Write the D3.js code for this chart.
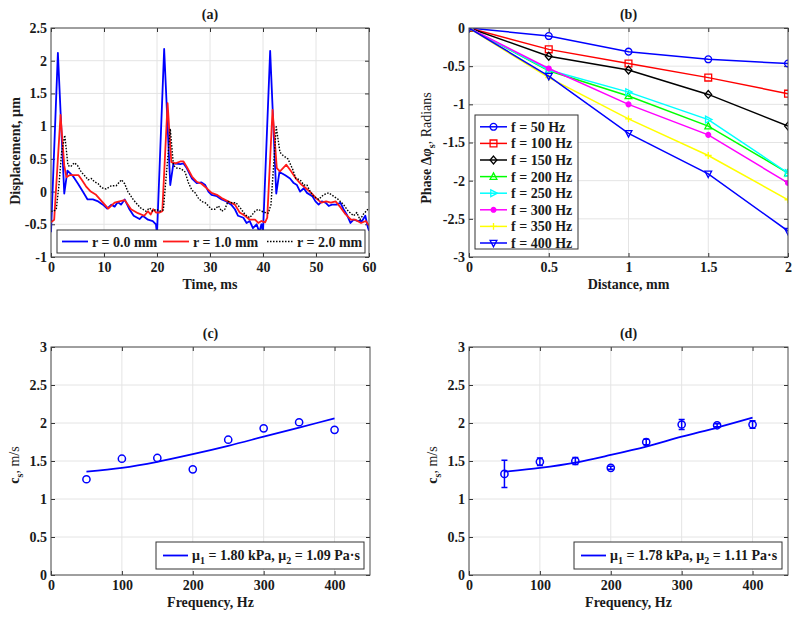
<!DOCTYPE html>
<html><head><meta charset="utf-8">
<script src="https://cdn.jsdelivr.net/npm/d3@7"></script>
<style>
body{margin:0;background:#fff}
text{font-family:"Liberation Serif","Times New Roman",serif;font-weight:bold;fill:#1a1a1a}
</style>
</head><body><svg id="c" width="800" height="618"></svg>
<script>
// ---------------- DATA ----------------
// Panel (a): displacement (µm) vs time (ms)
const dispR0 = [[0,-0.62],[1.3,2.12],[2.5,-0.03],[3.1,0.32],[4.1,0.24],[5.1,0.12],[6.0,0.0],[6.9,-0.12],[7.9,-0.12],[8.9,-0.15],[9.8,-0.2],[10.6,-0.26],[11.4,-0.2],[12.0,-0.23],[12.6,-0.16],[13.2,-0.2],[13.9,-0.12],[14.8,-0.27],[15.6,-0.37],[16.7,-0.42],[17.3,-0.37],[18.3,-0.43],[19.2,-0.45],[19.8,-0.5],[20.0,-0.65],
 [21.35,2.18],[22.5,0.1],[23.1,0.43],[24.4,0.42],[25.0,0.43],[25.6,0.36],[26.6,0.2],[27.5,0.13],[28.4,0.14],[29.1,0.1],[29.7,0.0],[30.3,-0.05],[31.3,-0.07],[32.2,-0.12],[33.1,-0.15],[34.0,-0.2],[34.7,-0.27],[35.3,-0.37],[36.3,-0.4],[36.9,-0.48],[37.5,-0.45],[38.1,-0.56],[38.8,-0.5],[39.3,-0.62],[39.7,-0.5],[40.0,-0.62],
 [41.35,2.15],[42.5,-0.03],[43.1,0.3],[44.2,0.25],[45.1,0.2],[45.8,0.13],[46.4,0.1],[47.0,0.0],[47.7,0.05],[48.3,-0.02],[49.3,-0.07],[49.9,-0.15],[50.5,-0.2],[51.1,-0.15],[51.8,-0.17],[52.4,-0.22],[53.0,-0.2],[53.9,-0.2],[54.6,-0.17],[55.2,-0.27],[55.8,-0.35],[56.5,-0.48],[57.1,-0.43],[58.0,-0.45],[58.7,-0.45],[59.3,-0.37],[59.8,-0.55],[60,-0.6]];
const dispR1 = [[0,-0.47],[0.6,-0.43],[1.8,1.17],[2.5,0.4],[2.9,0.22],[3.5,0.25],[4.4,0.25],[5.2,0.25],[5.8,0.18],[6.6,0.08],[7.5,0.0],[8.5,-0.05],[9.8,-0.17],[10.8,-0.26],[12.0,-0.17],[12.9,-0.15],[13.9,-0.13],[15.1,-0.27],[16.4,-0.33],[17.6,-0.37],[18.3,-0.3],[18.8,-0.35],[19.3,-0.27],[19.8,-0.32],[20.5,-0.32],[21.0,-0.3],
 [22.0,1.35],[22.7,0.45],[23.5,0.43],[24.4,0.46],[25.0,0.46],[25.6,0.38],[26.6,0.23],[27.5,0.15],[28.4,0.12],[29.4,0.05],[30.3,-0.02],[31.3,-0.05],[32.2,-0.1],[33.4,-0.15],[34.7,-0.2],[35.6,-0.32],[36.6,-0.37],[37.5,-0.43],[38.5,-0.43],[39.1,-0.48],[39.7,-0.45],[40.4,-0.47],[40.8,-0.4],
 [41.8,1.25],[42.6,0.36],[43.2,0.31],[44.4,0.41],[45.3,0.31],[46.2,0.2],[47.2,0.11],[48.1,0.05],[49.1,-0.02],[50.0,-0.1],[51.0,-0.17],[51.9,-0.15],[52.8,-0.17],[53.7,-0.15],[54.7,-0.25],[55.6,-0.35],[56.6,-0.43],[57.4,-0.43],[58.5,-0.48],[59.4,-0.45],[60,-0.52]];
const dispR2 = [[0,-0.3],[0.5,-0.3],[1.0,-0.27],[1.5,0.1],[2.0,0.6],[2.6,0.86],[3.2,0.4],[3.7,0.38],[4.4,0.44],[5.0,0.4],[5.7,0.3],[6.5,0.23],[7.0,0.18],[7.6,0.2],[8.2,0.15],[8.9,0.12],[9.5,0.06],[10.4,0.04],[11.4,0.09],[12.3,0.09],[13.3,0.18],[13.9,0.12],[14.5,0.0],[15.5,-0.12],[16.0,-0.17],[16.9,-0.25],[17.9,-0.3],[18.6,-0.25],[19.2,-0.3],[19.9,-0.27],[20.5,-0.3],[21.2,-0.28],[21.7,0.2],
 [22.5,0.96],[23.1,0.4],[23.7,0.36],[24.5,0.35],[25.3,0.3],[25.9,0.14],[26.6,0.02],[27.2,-0.02],[27.8,-0.1],[28.4,-0.15],[29.1,-0.17],[29.7,-0.22],[30.3,-0.27],[30.9,-0.27],[31.6,-0.22],[32.2,-0.3],[32.8,-0.27],[33.4,-0.15],[34.0,-0.17],[34.9,-0.17],[35.9,-0.27],[36.6,-0.35],[37.5,-0.4],[38.5,-0.3],[39.1,-0.27],[39.7,-0.3],[40.4,-0.32],[41.0,-0.33],[41.5,-0.2],
 [42.5,0.99],[43.2,0.6],[43.8,0.55],[44.7,0.5],[45.6,0.34],[46.2,0.2],[47.0,0.18],[47.7,0.1],[48.3,0.1],[48.9,0.0],[49.5,-0.07],[50.5,-0.12],[51.4,-0.05],[52.4,-0.02],[53.3,-0.07],[54.2,-0.12],[55.2,-0.2],[56.1,-0.3],[57.1,-0.37],[57.7,-0.32],[58.3,-0.43],[58.9,-0.35],[60,-0.25]];
const dispLabels = ["r = 0.0 mm","r = 1.0 mm","r = 2.0 mm"];
const timeTicks = [0,10,20,30,40,50,60];
const dispTicks = [-1,-0.5,0,0.5,1,1.5,2,2.5];

// Panel (b): phase vs distance
const distance = [0,0.5,1,1.5,2];
const phase50  = [0,-0.105,-0.31,-0.41,-0.465];
const phase100 = [0,-0.28,-0.465,-0.65,-0.86];
const phase150 = [0,-0.37,-0.55,-0.87,-1.285];
const phase200 = [0,-0.56,-0.89,-1.285,-1.9];
const phase250 = [0,-0.55,-0.84,-1.2,-1.9];
const phase300 = [0,-0.53,-1.0,-1.4,-2.03];
const phase350 = [0,-0.65,-1.19,-1.67,-2.25];
const phase400 = [0,-0.63,-1.38,-1.91,-2.66];
const phaseLabels = ["f = 50 Hz","f = 100 Hz","f = 150 Hz","f = 200 Hz","f = 250 Hz","f = 300 Hz","f = 350 Hz","f = 400 Hz"];
const distTicks = [0,0.5,1,1.5,2];
const phaseTicks = [-3,-2.5,-2,-1.5,-1,-0.5,0];

// Panels (c),(d): shear wave speed vs frequency
const freq = [50,100,150,200,250,300,350,400];
const speedC = [1.26,1.53,1.54,1.39,1.78,1.93,2.01,1.91];
const fitC   = [1.36,1.41,1.49,1.59,1.70,1.82,1.94,2.06];
const speedD = [1.33,1.49,1.50,1.41,1.75,1.98,1.97,1.98];
const errD   = [0.18,0.05,0.045,0.02,0.035,0.065,0.02,0.05];
const fitD   = [1.36,1.41,1.48,1.58,1.69,1.82,1.94,2.07];
const freqTicks = [0,100,200,300,400];
const speedTicks = [0,0.5,1,1.5,2,2.5,3];

// ---------------- STYLES ----------------
const dispStyles = [{c:"#0000ff",dash:null},{c:"#ff1a1a",dash:null},{c:"#000000",dash:"1.5,1.5"}];
const phaseStyles = [
 {c:"#0000ff",m:"circle"},{c:"#ff0000",m:"square"},{c:"#000000",m:"diamond"},{c:"#00ff00",m:"triup"},
 {c:"#00ffff",m:"triright"},{c:"#ff00ff",m:"dot"},{c:"#ffff00",m:"plus"},{c:"#0000ff",m:"tridown"}];

const svg = d3.select("#c");
const defs = svg.append("defs");
let clipId = 0;

function panel(cfg){
  const x = d3.scaleLinear().domain(cfg.xd).range([cfg.l,cfg.r]);
  const y = d3.scaleLinear().domain(cfg.yd).range([cfg.b,cfg.t]);
  const g = svg.append("g");
  g.append("g").selectAll("line").data(cfg.xt).join("line")
    .attr("x1",d=>x(d)).attr("x2",d=>x(d)).attr("y1",cfg.t).attr("y2",cfg.b)
    .attr("stroke","#e4e4e4").attr("stroke-width",1);
  g.append("g").selectAll("line").data(cfg.yt).join("line")
    .attr("y1",d=>y(d)).attr("y2",d=>y(d)).attr("x1",cfg.l).attr("x2",cfg.r)
    .attr("stroke","#e4e4e4").attr("stroke-width",1);
  const fmt = d => String(d);
  const ax = [];
  ax.push(g.append("g").attr("transform",`translate(0,${cfg.b})`).call(d3.axisBottom(x).tickValues(cfg.xt).tickSize(-4).tickPadding(5).tickFormat(fmt)));
  ax.push(g.append("g").attr("transform",`translate(0,${cfg.t})`).call(d3.axisTop(x).tickValues(cfg.xt).tickSize(-4).tickFormat("")));
  ax.push(g.append("g").attr("transform",`translate(${cfg.l},0)`).call(d3.axisLeft(y).tickValues(cfg.yt).tickSize(-4).tickPadding(4).tickFormat(fmt)));
  ax.push(g.append("g").attr("transform",`translate(${cfg.r},0)`).call(d3.axisRight(y).tickValues(cfg.yt).tickSize(-4).tickFormat("")));
  ax.forEach(a=>{
    a.attr("font-size",14).attr("font-family",null);
    a.select(".domain").remove();
    a.selectAll(".tick line").attr("stroke","#333");
  });
  const id = "clip"+(clipId++);
  defs.append("clipPath").attr("id",id).append("rect")
    .attr("x",cfg.l).attr("y",cfg.t).attr("width",cfg.r-cfg.l).attr("height",cfg.b-cfg.t);
  const plot = g.append("g").attr("clip-path",`url(#${id})`);
  const front = g.append("g");
  front.append("rect").attr("x",cfg.l).attr("y",cfg.t).attr("width",cfg.r-cfg.l).attr("height",cfg.b-cfg.t)
    .attr("fill","none").attr("stroke","#4d4d4d").attr("stroke-width",1);
  front.append("text").attr("x",(cfg.l+cfg.r)/2).attr("y",cfg.t-9).attr("text-anchor","middle")
    .attr("font-size",14).text(cfg.title);
  front.append("text").attr("x",(cfg.l+cfg.r)/2).attr("y",cfg.b+32).attr("text-anchor","middle")
    .attr("font-size",14).text(cfg.xlabel);
  return {x,y,g,plot,front};
}

function markerPath(type,s){
  switch(type){
    case "circle": return d3.symbol(d3.symbolCircle, Math.PI*s*s)();
    case "square": return `M${-s},${-s}H${s}V${s}H${-s}Z`;
    case "diamond": return `M0,${-s*1.15}L${s},0L0,${s*1.15}L${-s},0Z`;
    case "triup": return `M0,${-s*1.1}L${s},${s*0.8}L${-s},${s*0.8}Z`;
    case "triright": return `M${s*1.1},0L${-s*0.8},${-s}L${-s*0.8},${s}Z`;
    case "tridown": return `M0,${s*1.1}L${s},${-s*0.8}L${-s},${-s*0.8}Z`;
    case "plus": return `M${-s},0H${s}M0,${-s}V${s}`;
    case "dot": return d3.symbol(d3.symbolCircle, Math.PI*2.4*2.4)();
  }
}
function drawMarker(sel,type,color,s){
  sel.append("path").attr("d",markerPath(type,s))
    .attr("fill", type==="dot" ? color : "none")
    .attr("stroke",color).attr("stroke-width",1.3);
}

// ---------------- PANEL (a) ----------------
{
  const P = panel({l:51,r:369,t:28,b:257,xd:[0,60],yd:[-1,2.5],xt:timeTicks,yt:dispTicks,title:"(a)",xlabel:"Time, ms"});
  const line = d3.line().x(d=>P.x(d[0])).y(d=>P.y(d[1]));
  [dispR0,dispR1,dispR2].forEach((s,i)=>{
    const p = P.plot.append("path").attr("d",line(s)).attr("fill","none")
      .attr("stroke",dispStyles[i].c).attr("stroke-width",i===2?1.4:1.8).attr("stroke-linejoin","round");
    if(dispStyles[i].dash) p.attr("stroke-dasharray",dispStyles[i].dash);
  });
  const L = P.front.append("g");
  L.append("rect").attr("x",57).attr("y",230).attr("width",308).attr("height",23)
    .attr("fill","#fff").attr("stroke","#333").attr("stroke-width",1);
  const lx = [62,163,267];
  dispLabels.forEach((lab,i)=>{
    const ln = L.append("line").attr("x1",lx[i]).attr("x2",lx[i]+26).attr("y1",241.5).attr("y2",241.5)
      .attr("stroke",dispStyles[i].c).attr("stroke-width",i===2?1.4:1.8);
    if(dispStyles[i].dash) ln.attr("stroke-dasharray",dispStyles[i].dash);
    L.append("text").attr("x",lx[i]+30).attr("y",246.5).attr("font-size",14).text(lab);
  });
  svg.append("text").attr("transform","translate(20,151) rotate(-90)").attr("text-anchor","middle")
    .attr("font-size",14).text("Displacement, µm");
}

// ---------------- PANEL (b) ----------------
{
  const P = panel({l:469,r:788,t:28,b:257,xd:[0,2],yd:[-3,0],xt:distTicks,yt:phaseTicks,title:"(b)",xlabel:"Distance, mm"});
  const series = [phase50,phase100,phase150,phase200,phase250,phase300,phase350,phase400];
  const line = d3.line().x((d,i)=>P.x(distance[i])).y(d=>P.y(d));
  series.forEach((s,k)=>{
    const st = phaseStyles[k];
    P.plot.append("path").attr("d",line(s)).attr("fill","none").attr("stroke",st.c).attr("stroke-width",1.5);
    s.forEach((v,i)=>{
      const m = P.plot.append("g").attr("transform",`translate(${P.x(distance[i])},${P.y(v)})`);
      drawMarker(m,st.m,st.c,3.4);
    });
  });
  const L = P.front.append("g");
  L.append("rect").attr("x",475).attr("y",115).attr("width",103).attr("height",134)
    .attr("fill","#fff").attr("stroke","#333").attr("stroke-width",1);
  phaseLabels.forEach((lab,k)=>{
    const yy = 126.8 + k*16.6;
    const st = phaseStyles[k];
    L.append("line").attr("x1",480).attr("x2",507).attr("y1",yy).attr("y2",yy).attr("stroke",st.c).attr("stroke-width",1.5);
    const m = L.append("g").attr("transform",`translate(493.5,${yy})`);
    drawMarker(m,st.m,st.c,3.4);
    L.append("text").attr("x",511).attr("y",yy+5).attr("font-size",14).text(lab);
  });
  const t = svg.append("text").attr("transform","translate(431,148) rotate(-90)").attr("text-anchor","middle").attr("font-size",14);
  t.append("tspan").text("Phase Δ");
  t.append("tspan").attr("font-style","italic").text("φ");
  t.append("tspan").attr("font-size",10).attr("dy",4).text("s");
  t.append("tspan").attr("dy",-4).attr("font-weight","normal").text(", Radians");
}

// ---------------- PANELS (c),(d) ----------------
function speedPanel(cfg, vals, fit, errs, muText){
  const P = panel({l:cfg.l,r:cfg.r,t:347,b:575,xd:[0,450],yd:[0,3],xt:freqTicks,yt:speedTicks,title:cfg.title,xlabel:"Frequency, Hz"});
  const line = d3.line().x((d,i)=>P.x(freq[i])).y(d=>P.y(d)).curve(d3.curveMonotoneX);
  P.plot.append("path").attr("d",line(fit)).attr("fill","none").attr("stroke","#0000ff").attr("stroke-width",1.8);
  if(errs){
    vals.forEach((v,i)=>{
      const xx = P.x(freq[i]);
      const y1 = P.y(v-errs[i]), y2 = P.y(v+errs[i]);
      P.plot.append("path").attr("d",`M${xx},${y1}V${y2}M${xx-3},${y1}H${xx+3}M${xx-3},${y2}H${xx+3}`)
        .attr("stroke","#0000ff").attr("stroke-width",1.5).attr("fill","none");
    });
  }
  P.plot.selectAll("circle.pt").data(vals).join("circle").attr("class","pt")
    .attr("cx",(d,i)=>P.x(freq[i])).attr("cy",d=>P.y(d)).attr("r",3.6)
    .attr("fill","none").attr("stroke","#0000ff").attr("stroke-width",1.5);
  const L = P.front.append("g");
  L.append("rect").attr("x",cfg.lg).attr("y",542).attr("width",208).attr("height",27)
    .attr("fill","#fff").attr("stroke","#333").attr("stroke-width",1);
  L.append("line").attr("x1",cfg.lg+7).attr("x2",cfg.lg+32).attr("y1",555.5).attr("y2",555.5).attr("stroke","#0000ff").attr("stroke-width",1.8);
  const t = L.append("text").attr("x",cfg.lg+36).attr("y",560).attr("font-size",14);
  t.append("tspan").text("μ");
  t.append("tspan").attr("font-size",10).attr("dy",4).text("1");
  t.append("tspan").attr("dy",-4).text(` = ${muText[0]} kPa, μ`);
  t.append("tspan").attr("font-size",10).attr("dy",4).text("2");
  t.append("tspan").attr("dy",-4).text(` = ${muText[1]} Pa·s`);
  const yl = svg.append("text").attr("transform",`translate(${cfg.yl},465) rotate(-90)`).attr("text-anchor","middle").attr("font-size",14);
  yl.append("tspan").text("c");
  yl.append("tspan").attr("font-size",10).attr("dy",4).text("s");
  yl.append("tspan").attr("dy",-4).attr("font-weight","normal").text(", m/s");
}
speedPanel({l:51,r:370,title:"(c)",lg:156,yl:19}, speedC, fitC, null, ["1.80","1.09"]);
speedPanel({l:469,r:788,title:"(d)",lg:574,yl:437}, speedD, fitD, errD, ["1.78","1.11"]);
</script></body></html>
